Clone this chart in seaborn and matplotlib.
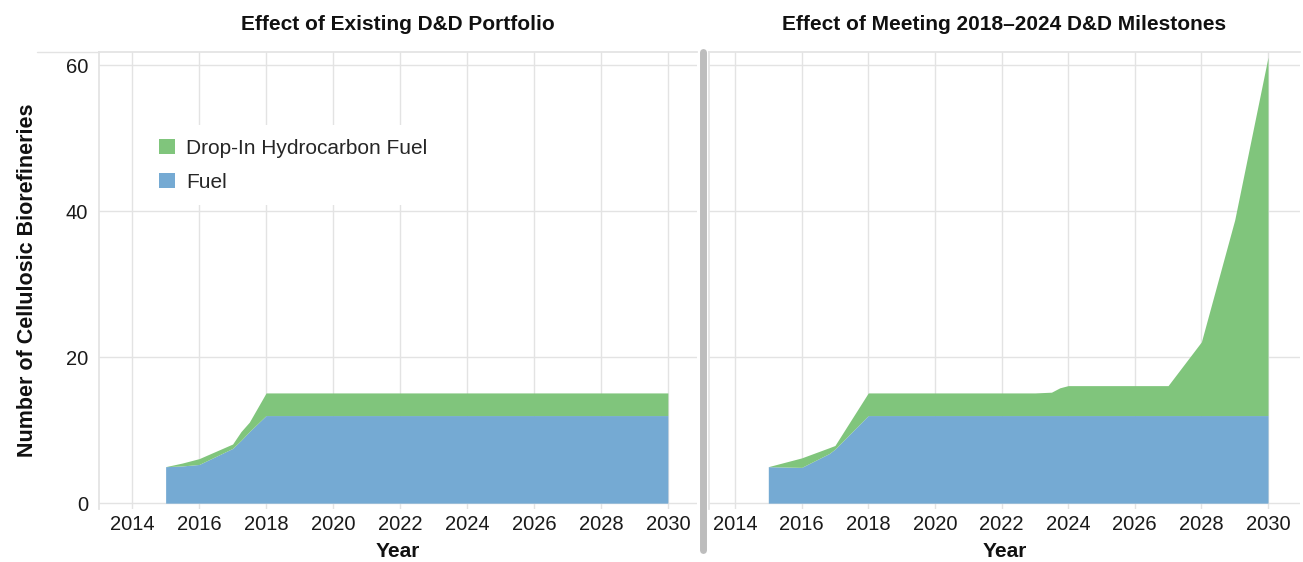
import seaborn as sns
import matplotlib.pyplot as plt
from matplotlib.patches import Patch
from matplotlib.lines import Line2D

# left panel: existing D&D portfolio
years_existing = [2015, 2015.5, 2016, 2016.5, 2017, 2017.25, 2017.5, 2018, 2019, 2020, 2021, 2022,
                  2023, 2024, 2025, 2026, 2027, 2028, 2029, 2030]
fuel_existing = [5.0, 5.1, 5.3, 6.4, 7.5, 8.6, 9.8, 12, 12, 12, 12, 12,
                 12, 12, 12, 12, 12, 12, 12, 12]
total_existing = [5.0, 5.5, 6.1, 7.1, 8.1, 9.8, 11.1, 15.1, 15.1, 15.1, 15.1, 15.1,
                  15.1, 15.1, 15.1, 15.1, 15.1, 15.1, 15.1, 15.1]

# right panel: meeting 2018-2024 milestones
years_milestones = [2015, 2016, 2016.83, 2017, 2018, 2019, 2020, 2021, 2022, 2023, 2023.5, 2023.75,
                    2024, 2025, 2026, 2027, 2028, 2029, 2030]
fuel_milestones = [5.0, 4.9, 6.8, 7.4, 12, 12, 12, 12, 12, 12, 12, 12,
                   12, 12, 12, 12, 12, 12, 12]
total_milestones = [5.0, 6.2, 7.6, 7.9, 15.1, 15.1, 15.1, 15.1, 15.1, 15.1, 15.2, 15.8,
                    16.1, 16.1, 16.1, 16.1, 22.1, 38.8, 61.1]

titles = ["Effect of Existing D&D Portfolio", "Effect of Meeting 2018\u20132024 D&D Milestones"]
series_names = ["Drop-In Hydrocarbon Fuel", "Fuel"]
xticks = list(range(2014, 2031, 2))
yticks = [0, 20, 40, 60]

blue = "#75aad3"
green = "#80c57c"
grid_c = "#e3e3e3"

sns.set_theme(style="whitegrid")
plt.rcParams["font.family"] = ["Liberation Sans", "DejaVu Sans"]

fig = plt.figure(figsize=(13.03, 5.62), dpi=100)
ax1 = fig.add_axes([99 / 1303, 1 - 509 / 562, 598 / 1303, 457 / 562])
ax2 = fig.add_axes([709 / 1303, 1 - 509 / 562, 591 / 1303, 457 / 562])

panels = [(ax1, years_existing, fuel_existing, total_existing, (2013.01, 2030.87)),
          (ax2, years_milestones, fuel_milestones, total_milestones, (2013.22, 2030.96))]

for i, (ax, yrs, fuel, total, xl) in enumerate(panels):
    ax.fill_between(yrs, 0, fuel, color=blue, linewidth=0, zorder=2)
    ax.fill_between(yrs, fuel, total, color=green, linewidth=0, zorder=2)
    ax.set_xlim(*xl)
    ax.set_ylim(-0.8, 61.8)
    ax.set_xticks(xticks)
    ax.set_yticks(yticks)
    ax.grid(True, color=grid_c, linewidth=1)
    ax.set_axisbelow(True)
    for side in ["right", "bottom"]:
        ax.spines[side].set_visible(False)
    ax.spines["top"].set_color(grid_c)
    ax.spines["left"].set_color(grid_c)
    ax.tick_params(axis="x", labelsize=14.5, length=0, pad=4, labelcolor="#1a1a1a")
    ax.tick_params(axis="y", labelsize=14.5, length=4, width=1, color=grid_c, pad=4,
                   labelcolor="#1a1a1a")
    ax.set_xlabel("Year", fontsize=15, fontweight="bold", labelpad=6, color="#111111")
    ax.set_title(titles[i], fontsize=15, fontweight="bold", pad=16, color="#111111")
    if i == 1:
        ax.tick_params(axis="y", labelleft=False, length=0)

ax1.set_ylabel("Number of Cellulosic Biorefineries", fontsize=15.5, fontweight="bold",
               labelpad=20, color="#111111")

handles = [Patch(facecolor=green, edgecolor="none"), Patch(facecolor=blue, edgecolor="none")]
leg = ax1.legend(handles, series_names, loc="upper left", bbox_to_anchor=(0.077, 0.84),
                 borderaxespad=0, borderpad=0.65, fontsize=15, handlelength=0.78,
                 handleheight=0.78, handletextpad=0.55, labelspacing=0.72,
                 frameon=True, framealpha=1, facecolor="white", edgecolor="none")

# grey divider between the panels and the thin top rule
fig.add_artist(Line2D([702.5 / 1303, 702.5 / 1303], [1 - 52 / 562, 1 - 550 / 562],
                      color="#bdbdbd", linewidth=5, transform=fig.transFigure))
fig.add_artist(Line2D([37 / 1303, 99 / 1303], [1 - 52 / 562, 1 - 52 / 562],
                      color=grid_c, linewidth=1, transform=fig.transFigure))

fig.savefig("out.png", dpi=100)
